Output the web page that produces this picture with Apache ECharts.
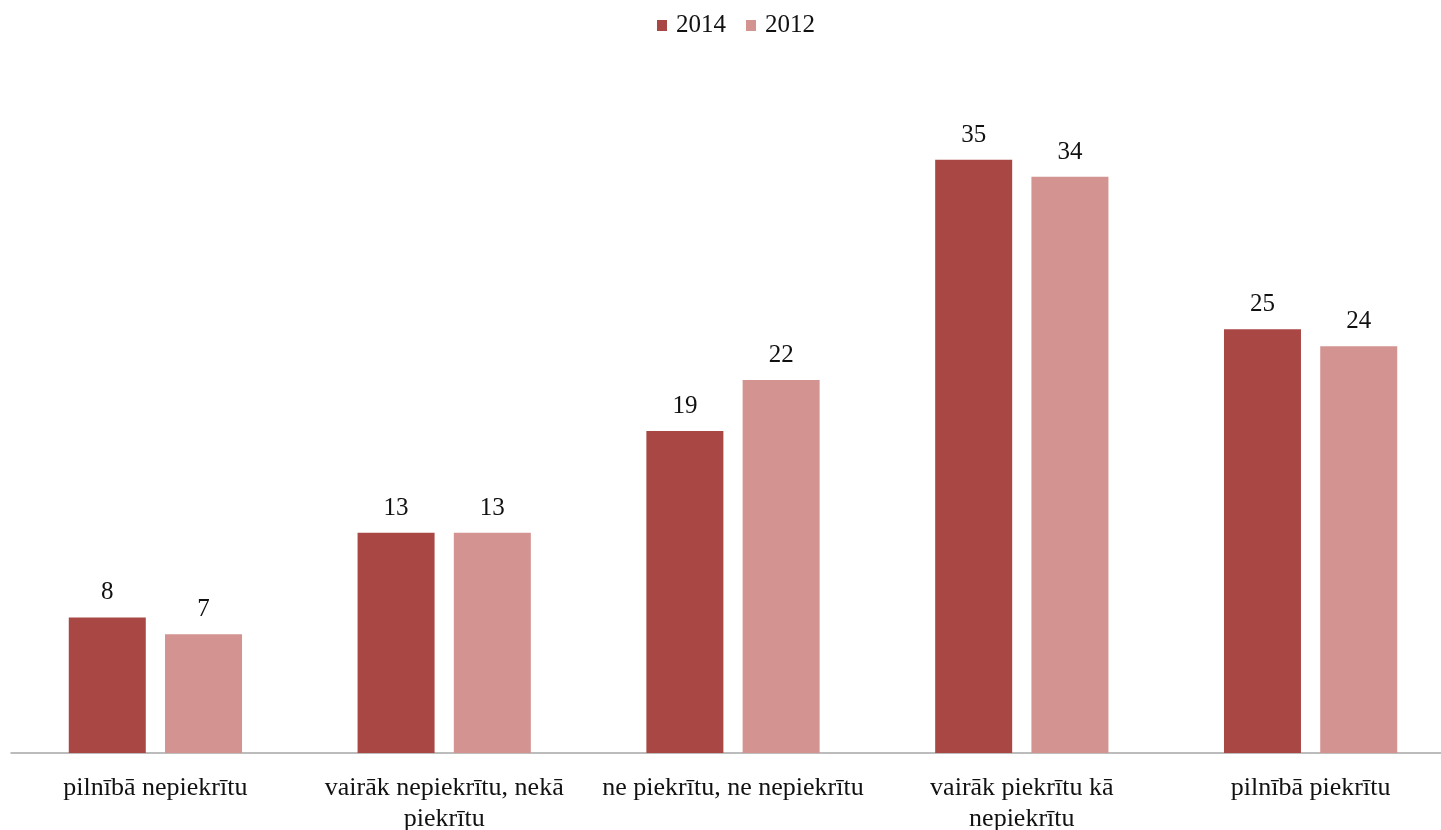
<!DOCTYPE html>
<html><head><meta charset="utf-8">
<script src="https://cdn.jsdelivr.net/npm/echarts@6/dist/echarts.min.js"></script>
<style>html,body{margin:0;padding:0;background:#fff;overflow:hidden}#c{position:absolute;left:0;top:0;width:1456px;height:830px}</style>
</head><body><div id="c"></div>
<script>
const categories = ["pilnībā nepiekrītu", "vairāk nepiekrītu, nekā\npiekrītu", "ne piekrītu, ne nepiekrītu", "vairāk piekrītu kā\nnepiekrītu", "pilnībā piekrītu"];
const seriesNames = ["2014", "2012"];
const values2014 = [8, 13, 19, 35, 25];
const values2012 = [7, 13, 22, 34, 24];
const font = "'Liberation Serif', 'Times New Roman', serif";
const chart = echarts.init(document.getElementById('c'));
chart.setOption({
  animation: false,
  textStyle: {fontFamily: font},
  legend: {
    top: 13, left: 657, itemWidth: 10, itemHeight: 11, itemGap: 20,
    icon: 'rect', padding: 0,
    textStyle: {fontFamily: font, fontSize: 25, color: '#111', padding: [0, 0, 0, 4]},
    data: seriesNames
  },
  grid: {left: 11, top: 75, width: 1444, height: 678, containLabel: false, outerBoundsMode: 'none'},
  xAxis: {
    type: 'category', data: categories,
    axisLine: {lineStyle: {color: '#a6a6a6', width: 1.5}},
    axisTick: {show: false},
    axisLabel: {fontFamily: font, fontSize: 26, color: '#111', margin: 20, lineHeight: 31, interval: 0}
  },
  yAxis: {type: 'value', min: 0, max: 40, show: false, splitLine: {show: false}},
  series: [
    {name: seriesNames[0], type: 'bar', data: values2014, barWidth: 77, barGap: '25%',
     itemStyle: {color: '#A84744'},
     label: {show: true, position: 'top', distance: 12, fontFamily: font, fontSize: 25, color: '#111'}},
    {name: seriesNames[1], type: 'bar', data: values2012, barWidth: 77,
     itemStyle: {color: '#D39391'},
     label: {show: true, position: 'top', distance: 12, fontFamily: font, fontSize: 25, color: '#111'}}
  ]
});
</script></body></html>
